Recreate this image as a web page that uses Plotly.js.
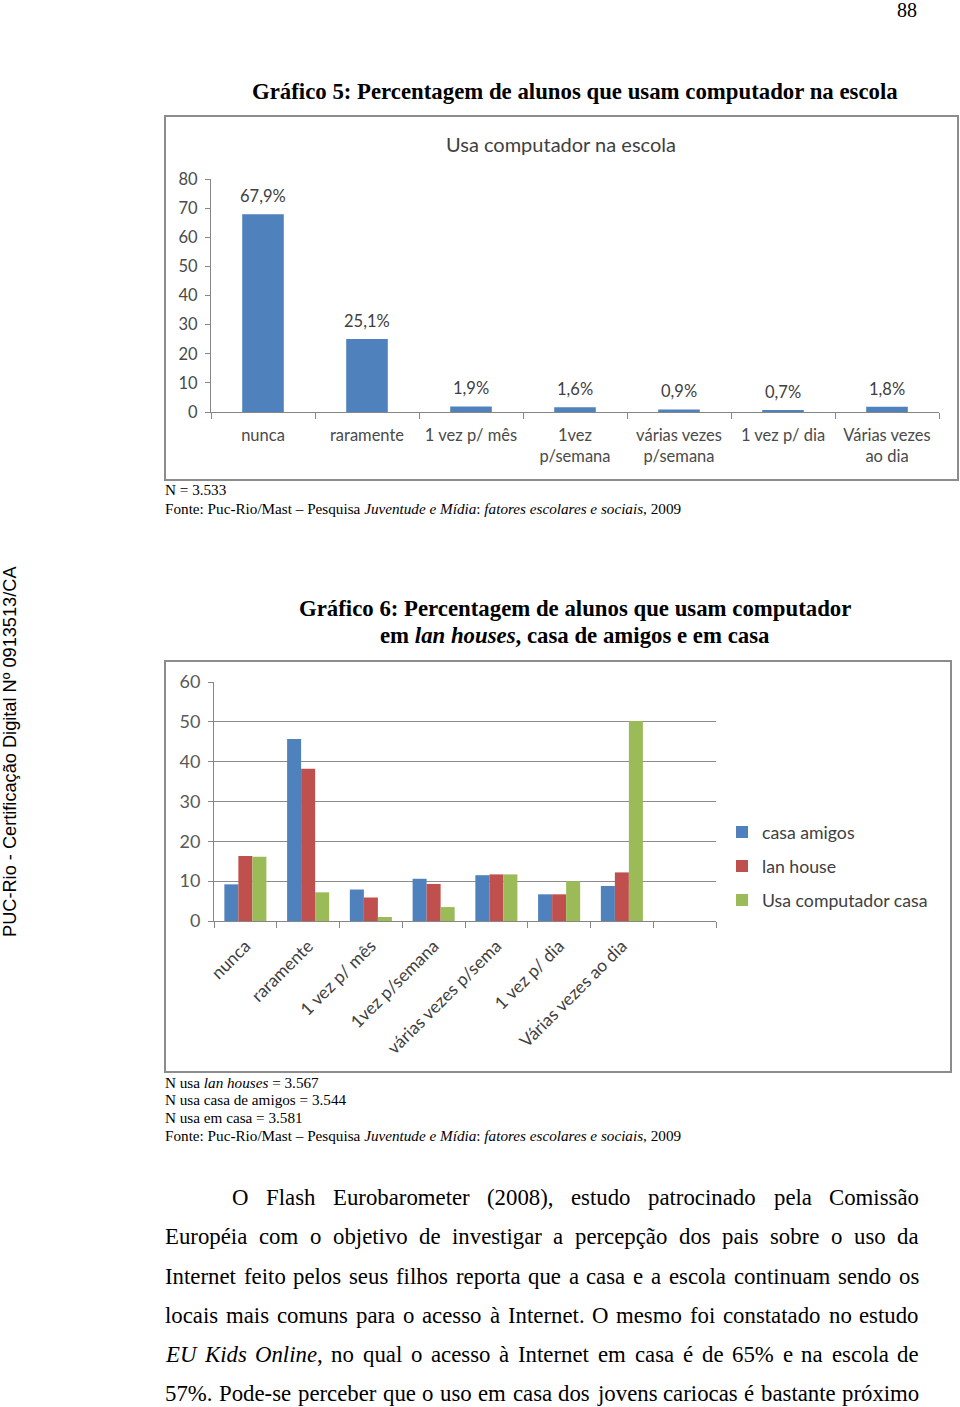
<!DOCTYPE html>
<html><head><meta charset="utf-8">
<script src="https://cdn.plot.ly/plotly-3.0.1.min.js"></script>
<style>html,body{margin:0;padding:0;background:#fff;}#chart{width:960px;height:1407px;}</style>
</head><body><div id="chart"></div>
<script>
const W = 960, H = 1407;

// ---- Gráfico 5 data ----
const chart1Title = "Usa computador na escola";
const chart1Categories = ["nunca", "raramente", "1 vez p/ mês", "1vez<br>p/semana", "várias vezes<br>p/semana", "1 vez p/ dia", "Várias vezes<br>ao dia"];
const chart1Values = [67.9, 25.1, 1.9, 1.6, 0.9, 0.7, 1.8];

// ---- Gráfico 6 data ----
const chart2Categories = ["nunca", "raramente", "1 vez p/ mês", "1vez p/semana", "várias vezes p/sema", "1 vez p/ dia", "Várias vezes ao dia", " "];
const seriesNames = ["casa amigos", "lan house", "Usa computador casa"];
const casaAmigos = [9.2, 45.7, 7.9, 10.6, 11.5, 6.7, 8.8];
const lanHouse = [16.3, 38.2, 5.9, 9.3, 11.7, 6.7, 12.2];
const usaCasa = [16.1, 7.2, 1.0, 3.5, 11.7, 10.0, 50.2];

// ---- page texts ----
const pageNumber = "88";
const title5 = "Gráfico 5: Percentagem de alunos que usam computador na escola";
const title6a = "Gráfico 6: Percentagem de alunos que usam computador";
const title6b = "em <i>lan houses</i>, casa de amigos e em casa";
const notes5 = ["N = 3.533", "Fonte: Puc-Rio/Mast – Pesquisa <i>Juventude e Mídia</i>: <i>fatores escolares e sociais</i>, 2009"];
const notes6 = ["N usa <i>lan houses</i> = 3.567", "N usa casa de amigos = 3.544", "N usa em casa = 3.581", "Fonte: Puc-Rio/Mast – Pesquisa <i>Juventude e Mídia</i>: <i>fatores escolares e sociais</i>, 2009"];
const sideText = "PUC-Rio - Certificação Digital Nº 0913513/CA";
const paragraphLines = [
  "O Flash Eurobarometer (2008), estudo patrocinado pela Comissão",
  "Européia com o objetivo de investigar a percepção dos pais sobre o uso da",
  "Internet feito pelos seus filhos reporta que a casa e a escola continuam sendo os",
  "locais mais comuns para o acesso à Internet. O mesmo foi constatado no estudo",
  "*EU* *Kids* *Online*, no qual o acesso à Internet em casa é de 65% e na escola de",
  "57%. Pode-se perceber que o uso em casa dos jovens cariocas é bastante próximo"
];

const px = x => x / W;
const py = y => 1 - y / H;
const SERIF = '"Liberation Serif", "Times New Roman", serif';
const SANS = 'Lato, "Open Sans", sans-serif';
const colors = ["#4F81BD", "#C0504D", "#9BBB59"];

const traces = [{
  type: 'bar', x: chart1Categories, y: chart1Values, xaxis: 'x', yaxis: 'y',
  width: 0.4, marker: {color: colors[0]}, showlegend: false, hoverinfo: 'skip'
}];
[casaAmigos, lanHouse, usaCasa].forEach((vals, i) => {
  traces.push({
    type: 'bar', name: seriesNames[i], legendgroup: 'g' + i,
    x: chart2Categories.slice(0, vals.length), y: vals, xaxis: 'x2', yaxis: 'y2',
    marker: {color: colors[i]}, hoverinfo: 'skip'
  });
});

const annotations = [];
function ann(text, x, y, opts) {
  annotations.push(Object.assign({text: text, x: px(x), y: py(y), xref: 'paper', yref: 'paper',
    xanchor: 'center', yanchor: 'middle', showarrow: false}, opts));
}
// data labels for chart 1 (positioned by the data through the axes)
chart1Values.forEach((v, i) => {
  annotations.push({text: v.toFixed(1).replace('.', ',') + '%', x: chart1Categories[i], y: v,
    xref: 'x', yref: 'y', xanchor: 'center', yanchor: 'bottom', yshift: 6, showarrow: false,
    font: {family: SANS, size: 16.5, color: '#404040'}});
});
ann(pageNumber, 907, 10, {font: {family: SERIF, size: 20, color: '#000'}});
ann('<b>' + title5 + '</b>', 575, 91, {font: {family: SERIF, size: 22.8, color: '#000'}});
ann('<b>' + title6a + '</b>', 575, 609, {font: {family: SERIF, size: 22.8, color: '#000'}});
ann('<b>' + title6b + '</b>', 575, 635, {font: {family: SERIF, size: 22.8, color: '#000'}});
ann(chart1Title, 561, 144, {font: {family: SANS, size: 20, color: '#404040'}});
notes5.forEach((t, i) => ann(t, 163, 490 + i * 18, {xanchor: 'left', font: {family: SERIF, size: 15.2, color: '#000'}}));
notes6.forEach((t, i) => ann(t, 163, 1082 + i * 17.7, {xanchor: 'left', font: {family: SERIF, size: 15.2, color: '#000'}}));
ann(sideText, 10, 752, {textangle: -90, font: {family: '"Liberation Sans", Arial, sans-serif', size: 18.2, color: '#000'}});

// justified paragraph
const cv = document.createElement('canvas').getContext('2d');
const PFS = 22.8;
function measure(seg) {
  cv.font = (seg.i ? 'italic ' : '') + PFS + 'px "Liberation Serif"';
  return cv.measureText(seg.t).width;
}
const lineYs = [1197, 1236, 1276, 1315, 1354, 1393];
paragraphLines.forEach((line, li) => {
  const startX = li === 0 ? 231 : 164, endX = 918;
  const words = line.split(' ').map(w => {
    const parts = w.split('*');
    const segs = parts.map((p, k) => ({t: p, i: k % 2 === 1})).filter(s => s.t.length);
    return {segs: segs, w: segs.reduce((a, s) => a + measure(s), 0)};
  });
  const total = words.reduce((a, w) => a + w.w, 0);
  const gap = (endX - startX - total) / (words.length - 1);
  let x = startX;
  words.forEach(w => {
    const html = w.segs.map(s => s.i ? '<i>' + s.t + '</i>' : s.t).join('');
    ann(html, x - 1, lineYs[li], {xanchor: 'left', font: {family: SERIF, size: PFS, color: '#000'}});
    x += w.w + gap;
  });
});

const axisGray = '#868686';
const layout = {
  width: W, height: H, margin: {l: 0, r: 0, t: 0, b: 0},
  paper_bgcolor: '#fff', plot_bgcolor: 'rgba(0,0,0,0)',
  barmode: 'group', bargap: 0.33, bargroupgap: 0,
  font: {family: SANS, color: '#595959', size: 16},
  xaxis: {domain: [px(211), px(939)], anchor: 'y', type: 'category', range: [-0.5, 6.5],
    showline: true, linecolor: axisGray, ticks: 'outside', ticklen: 6, tickcolor: axisGray,
    tickson: 'boundaries', ticklabelstandoff: 8, showgrid: false,
    tickfont: {family: SANS, size: 16.5, color: '#4a4a4a'}, fixedrange: true},
  yaxis: {domain: [py(412), py(179)], anchor: 'x', range: [0, 80], dtick: 10,
    showline: true, linecolor: axisGray, ticks: 'outside', ticklen: 5, tickcolor: axisGray,
    ticklabelstandoff: 4, showgrid: false, zeroline: false,
    tickfont: {family: SANS, size: 16.5, color: '#4a4a4a'}, fixedrange: true},
  xaxis2: {domain: [px(214), px(716)], anchor: 'y2', type: 'category', categoryorder: 'array',
    categoryarray: chart2Categories, range: [-0.5, 7.5], tickangle: -45,
    showline: true, linecolor: axisGray, ticks: 'outside', ticklen: 6, tickcolor: axisGray,
    tickson: 'boundaries', ticklabelstandoff: 7, showgrid: false,
    tickfont: {family: SANS, size: 17.5, color: '#404040'}, fixedrange: true},
  yaxis2: {domain: [py(921), py(682)], anchor: 'x2', range: [0, 60], dtick: 10,
    showline: true, linecolor: axisGray, ticks: 'outside', ticklen: 5, tickcolor: axisGray,
    ticklabelstandoff: 4, showgrid: true, gridcolor: '#8c8c8c', gridwidth: 1, zeroline: false,
    tickfont: {family: SANS, size: 18, color: '#595959'}, fixedrange: true},
  legend: {x: px(722), y: py(814), xanchor: 'left', yanchor: 'top',
    font: {family: SANS, size: 17.7, color: '#404040'}, traceorder: 'grouped', tracegroupgap: 8,
    bgcolor: 'rgba(0,0,0,0)'},
  shapes: [
    {type: 'rect', xref: 'paper', yref: 'paper', x0: px(165), x1: px(958), y0: py(116), y1: py(480), line: {color: '#8c8c8c', width: 2}},
    {type: 'rect', xref: 'paper', yref: 'paper', x0: px(165), x1: px(951), y0: py(661), y1: py(1072), line: {color: '#8c8c8c', width: 2}}
  ],
  annotations: annotations
};

Plotly.newPlot('chart', traces, layout, {displayModeBar: false, staticPlot: true});
</script>
</body></html>
